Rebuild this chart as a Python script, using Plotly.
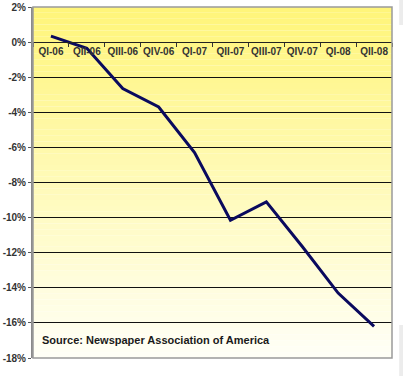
import plotly.graph_objects as go

quarters = ["QI-06", "QII-06", "QIII-06", "QIV-06", "QI-07", "QII-07",
            "QIII-07", "QIV-07", "QI-08", "QII-08"]
change_pct = [0.34, -0.35, -2.65, -3.7, -6.3, -10.15, -9.1, -11.65, -14.3, -16.2]
y_ticks = list(range(-18, 3, 2))
y_tick_labels = [f"<b>{v}%</b>" for v in y_ticks]
x_tick_labels = [f"<b>{q}</b>" for q in quarters]
source_text = "<b>Source: Newspaper Association of America</b>"

fig = go.Figure()

# vertical gradient background for the plot area (yellow -> near white)
top = (255, 245, 122)
bot = (255, 255, 246)
n = 60
for i in range(n):
    t = i / (n - 1)
    r = round(top[0] + (bot[0] - top[0]) * t)
    g = round(top[1] + (bot[1] - top[1]) * t)
    b = round(top[2] + (bot[2] - top[2]) * t)
    fig.add_shape(type="rect", xref="x domain", yref="y domain",
                  x0=0, x1=1, y0=1 - (i + 1) / n, y1=1 - i / n,
                  fillcolor=f"rgb({r},{g},{b})", line_width=0, layer="below")

# faint gray frame pieces of the original screenshot
fig.add_shape(type="rect", xref="paper", yref="paper", x0=1.02, x1=1.04,
              y0=(358 - 25) / 351 * 1.0 - 0.0, y1=(358 - 0) / 351,
              fillcolor="#ececec", line_width=0, layer="below")
fig.add_shape(type="rect", xref="paper", yref="paper", x0=1.02, x1=1.04,
              y0=(358 - 376) / 351, y1=(358 - 325) / 351,
              fillcolor="#ececec", line_width=0, layer="below")

fig.add_trace(go.Scatter(x=quarters, y=change_pct, mode="lines",
                         line=dict(color="#0a0a5e", width=3),
                         hoverinfo="skip", showlegend=False))

fig.add_annotation(text=source_text, xref="x domain", yref="y",
                   x=0.02, y=-17, xanchor="left", yanchor="middle",
                   showarrow=False,
                   font=dict(family="Arial, Liberation Sans", size=11, color="#1a1a1a"))

fig.update_layout(
    width=403, height=376,
    margin=dict(l=33, r=11, t=7, b=18),
    paper_bgcolor="white", plot_bgcolor="rgba(0,0,0,0)",
    font=dict(family="Arial, Liberation Sans", size=10, color="#333333"),
    xaxis=dict(type="category", anchor="free", position=0.9,
               tickvals=quarters, ticktext=x_tick_labels, tickangle=0,
               automargin=False,
               showgrid=False, zeroline=False, showline=True,
               linecolor="#222222", linewidth=1,
               ticks="outside", ticklen=4, tickcolor="#333333",
               tickson="boundaries", range=[-0.5, 9.5],
               tickfont=dict(family="Arial, Liberation Sans", size=10,
                             color="#333333")),
    yaxis=dict(range=[-18, 2], tickvals=y_ticks, ticktext=y_tick_labels,
               automargin=False,
               showgrid=True, gridcolor="#111111", gridwidth=1,
               zeroline=False, showline=True, linecolor="#8a8a8a", linewidth=2,
               mirror=False, ticks="outside", ticklen=3, tickcolor="#555555",
               tickfont=dict(family="Arial, Liberation Sans", size=10,
                             color="#333333")),
)

# plot area border in gray
fig.add_shape(type="rect", xref="x domain", yref="y domain", x0=0, x1=1, y0=0, y1=1,
              line=dict(color="#9a9a9a", width=1.5), fillcolor="rgba(0,0,0,0)", layer="above")

fig.write_html("out.html", config={"displayModeBar": False},
               post_script="document.body.style.margin='0px';")
